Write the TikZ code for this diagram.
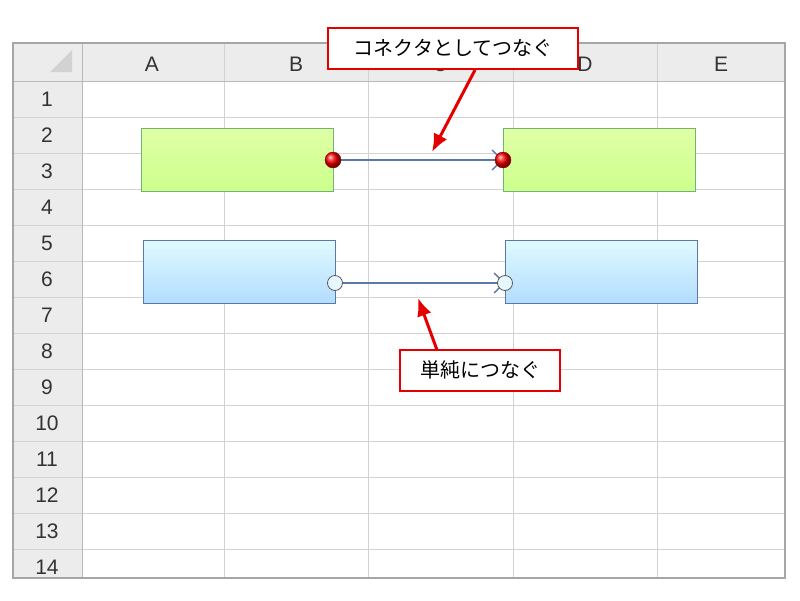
\documentclass[tikz,border=0pt]{standalone}
\usepackage{fontspec}
\setmainfont{Liberation Sans}
\newfontfamily\cjk{Noto Sans CJK JP}
\usetikzlibrary{arrows.meta}
\definecolor{steel}{RGB}{90,120,170}
\begin{document}
\begin{tikzpicture}[x=1pt,y=-1pt,
  hdr/.style={font=\fontsize{21}{21}\selectfont, text=black!80},
  callout/.style={draw=red!90!black, line width=2pt, fill=white, font=\cjk\fontsize{20}{20}\selectfont, inner sep=3pt, minimum height=41pt},
  gbox/.style={draw=green!45!black!55, line width=1pt, top color=green!35!yellow!35, bottom color=green!45!yellow!45},
  bbox/.style={draw=steel, line width=1pt, top color=blue!15!cyan!12, bottom color=blue!45!cyan!30},
  conn/.style={draw=steel, line width=1.3pt},
  redarrow/.style={draw=red!90!black, line width=3pt, -{Latex[length=18pt,width=15pt]}}]
\useasboundingbox (0,0) rectangle (800,600);
\fill[white] (0,0) rectangle (800,600);
% headers
\fill[gray!15] (13,43) rectangle (785,81);
\fill[gray!15] (13,43) rectangle (82,578);
\fill[gray!35] (62,60) -- (72,50) -- (72,72) -- (50,72) -- cycle;
% grid lines
\foreach \x in {224,368,513,657} \draw[gray!35] (\x,43) -- (\x,578);
\foreach \i in {1,...,13} \draw[gray!35] (13,{81+36*\i}) -- (785,{81+36*\i});
\draw[gray!55] (13,81) -- (785,81);
\draw[gray!55] (82,43) -- (82,578);
\draw[gray!70, line width=1.5pt] (13,43) rectangle (785,578);
\foreach \l/\x in {A/152,B/296,C/440,D/585,E/721} \node[hdr] (h\l) at (\x,64) {\l};
\foreach \i in {1,...,14} \node[hdr] (r\i) at (47,{99+36*(\i-1)}) {\i};
% shapes
\node[gbox, minimum width=192pt, minimum height=63pt] (g1) at (237,159.5) {};
\node[gbox, minimum width=192pt, minimum height=63pt] (g2) at (599,159.5) {};
\node[bbox, minimum width=192pt, minimum height=63pt] (b1) at (239,271.5) {};
\node[bbox, minimum width=192pt, minimum height=63pt] (b2) at (601,271.5) {};
% connectors
\draw[conn, -{Straight Barb[length=10pt,width=20pt]}] (333,160) -- (503,160);
\draw[conn, -{Straight Barb[length=10pt,width=20pt]}] (335,283) -- (505,283);
\foreach \x/\y in {333/160,503/160} \shade[ball color=red, draw=red!60!black] (\x,\y) circle (8pt);
\foreach \x/\y in {335/283,505/283} \draw[gray!70!black, fill=cyan!10, line width=0.8pt] (\x,\y) circle (7.5pt);
% callouts
\node[callout, minimum width=250pt] (c1) at (453,48.5) {コネクタとしてつなぐ};
\node[callout, minimum width=160pt] (c2) at (480,370) {単純につなぐ};
\coordinate (t1) at (432,152);
\coordinate (t2) at (418,298);
\draw[redarrow] (475,70) -- (t1);
\draw[redarrow] (437,350) -- (t2);
\end{tikzpicture}
\end{document}
